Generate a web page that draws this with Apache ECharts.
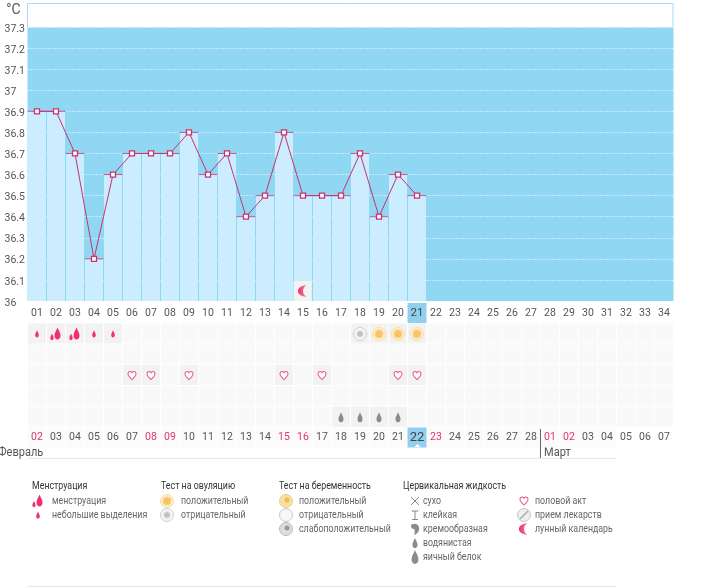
<!DOCTYPE html>
<html>
<head>
    <title>График температуры</title>
    <meta http-equiv="content-type" content="text/html; charset=utf-8">
    <script src="https://cdn.jsdelivr.net/npm/echarts@6/dist/echarts.min.js"></script>
    <style type="text/css">
        html, body { margin:0; padding:0; background:#fff; }
        #main { width:711px; height:587px; }
    </style>
</head>
<body>
    <div id="main"></div>
    <script type="text/javascript">
        var cycleDays = ['01','02','03','04','05','06','07','08','09','10','11','12','13','14','15','16','17','18','19','20','21','22','23','24','25','26','27','28','29','30','31','32','33','34'];
        var calendarDays = ['02','03','04','05','06','07','08','09','10','11','12','13','14','15','16','17','18','19','20','21','22','23','24','25','26','27','28','01','02','03','04','05','06','07'];
        var weekendCols = [0,6,7,13,14,21,27,28];
        var temperature = [36.9,36.9,36.7,36.2,36.6,36.7,36.7,36.7,36.8,36.6,36.7,36.4,36.5,36.8,36.5,36.5,36.5,36.7,36.4,36.6,36.5];
        var todayCol = 20;
        var todayDateCol = 20;
        // [column, row, icon]
        var events = [
            [0,0,'spot'],[1,0,'flow'],[2,0,'flow'],[3,0,'spot'],[4,0,'spot'],
            [17,0,'ovuNeg'],[18,0,'ovuPos'],[19,0,'ovuPos'],[20,0,'ovuPos'],
            [5,2,'heart'],[6,2,'heart'],[8,2,'heart'],[13,2,'heart'],[15,2,'heart'],[19,2,'heart'],[20,2,'heart'],
            [16,4,'water'],[17,4,'water'],[18,4,'water'],[19,4,'water']
        ];
        var moonDays = [[14,36]];
        var rowCount = 5;

        var PINK = '#f0316b';
        var DROP = 'M0,-6C1,-3 3,-1 3,2C3,4.5 1.5,6 0,6C-1.5,6 -3,4.5 -3,2C-3,-1 -1,-3 0,-6Z';
        var HEART = 'M0,5C-2,3 -5,0.5 -5,-2C-5,-4 -3.5,-5 -2.3,-5C-1.2,-5 -0.4,-4.3 0,-3.5C0.4,-4.3 1.2,-5 2.3,-5C3.5,-5 5,-4 5,-2C5,0.5 2,3 0,5Z';
        var MOON = 'M5,-8C-2,-8 -7,-4.5 -7,0C-7,4.5 -2,8 5,8C2,6 0,3 0,0C0,-3 2,-6 5,-8Z';
        var MOON_FILL = {type:'linear', x:0, y:0, x2:1, y2:0, colorStops:[{offset:0, color:'#ee2f6c'}, {offset:0.6, color:'#f2618f'}, {offset:1, color:'#f9b7cc'}]};

        function circle(cx, cy, r, fill, stroke, w) {
            return {type:'circle', shape:{cx:cx, cy:cy, r:r}, style:{fill:fill, stroke:stroke || null, lineWidth:w || 1}};
        }
        function path(d, cx, cy, s, fill, stroke, w) {
            return {type:'path', x:cx, y:cy, scaleX:s, scaleY:s, shape:{pathData:d},
                style:{fill:fill, stroke:stroke || null, lineWidth:w || 1}};
        }
        function line(x1, y1, x2, y2, color, w) {
            return {type:'line', shape:{x1:x1, y1:y1, x2:x2, y2:y2}, style:{stroke:color, lineWidth:w || 1}};
        }
        // icon parts around a centre
        function iconParts(name, x, y) {
            switch (name) {
                case 'spot': return [path(DROP, x, y, 0.6, PINK)];
                case 'flow': return [path(DROP, x+1.5, y-0.5, 1, PINK), path(DROP, x-4, y+3, 0.55, PINK)];
                case 'heart': return [path(HEART, x, y, 0.8, '#fff', '#ef5d8c', 1.3)];
                case 'water': return [path(DROP, x, y, 0.85, '#8b8b8b')];
                case 'egg': return [path(DROP, x, y, 1.15, '#8b8b8b')];
                case 'ovuPos': return [circle(x, y, 6.5, '#fdeec8', '#f9dfa6', 1), circle(x, y, 4, '#f9c469', '#fad388', 1)];
                case 'ovuNeg': return [circle(x, y, 6.5, '#f6f6f6', '#cfcfcf', 1), circle(x, y, 3.2, '#c0c0c0', '#e0e0e0', 1)];
                case 'pregPos': return [circle(x, y, 6.5, '#fbdf9d', '#e8cf9a', 1), circle(x+1, y-1, 2.5, '#f5b74f')];
                case 'pregNeg': return [circle(x, y, 6.5, '#f7f7f7', '#c9c9c9', 1)];
                case 'pregWeak': return [circle(x, y, 6.5, '#ddd', '#bbb', 1), circle(x+1, y-1, 2.5, '#999')];
                case 'dry': return [line(x-4, y-4, x+4, y+4, '#888'), line(x+4, y-4, x-4, y+4, '#888')];
                case 'sticky': return [line(x-3.5, y-4, x+3.5, y-4, '#888'), line(x, y-4, x, y+4, '#888'), line(x-3, y+4.5, x+3, y+4.5, '#888')];
                case 'creamy': return [path('M-4,-3C-4,-6 3,-6 4,-2C5,2 2,5 -1,6C0,3 0,1 -1,0C-3,0 -4,-1 -4,-3Z', x, y, 1, '#8b8b8b')];
                case 'pill': return [circle(x, y, 6.5, '#eee', '#c9c9c9', 1), line(x-4, y+4, x+4, y-4, '#aaa', 1.5)];
                case 'moon': return [path(MOON, x, y, 0.72, MOON_FILL)];
            }
            return [];
        }

        var legendHeads = [
            {x:32, text:'Менструация'}, {x:161, text:'Тест на овуляцию'},
            {x:279, text:'Тест на беременность'}, {x:403, text:'Цервикальная жидкость'}
        ];
        var legendItems = [
            {ix:38, tx:52, row:0, icon:'flow', text:'менструация'},
            {ix:38, tx:52, row:1, icon:'spot', text:'небольшие выделения'},
            {ix:167, tx:181, row:0, icon:'ovuPos', text:'положительный'},
            {ix:167, tx:181, row:1, icon:'ovuNeg', text:'отрицательный'},
            {ix:286, tx:299, row:0, icon:'pregPos', text:'положительный'},
            {ix:286, tx:299, row:1, icon:'pregNeg', text:'отрицательный'},
            {ix:286, tx:299, row:2, icon:'pregWeak', text:'слабоположительный'},
            {ix:415, tx:423, row:0, icon:'dry', text:'сухо'},
            {ix:415, tx:423, row:1, icon:'sticky', text:'клейкая'},
            {ix:415, tx:423, row:2, icon:'creamy', text:'кремообразная'},
            {ix:415, tx:423, row:3, icon:'water', text:'водянистая'},
            {ix:415, tx:423, row:4, icon:'egg', text:'яичный белок'},
            {ix:524, tx:535, row:0, icon:'heart', text:'половой акт'},
            {ix:524, tx:535, row:1, icon:'pill', text:'прием лекарств'},
            {ix:524, tx:535, row:2, icon:'moon', text:'лунный календарь'}
        ];
        var FONT = 'Roboto, sans-serif';
        var TEXT_SQUEEZE = 0.84;

        var graphics = [
            // top white part of the plot frame
            {type:'rect', shape:{x:27.5, y:3.5, width:645.5, height:24}, style:{fill:'#fff', stroke:'#a6dcf3'}},
            line(540.5, 429, 540.5, 458, '#666'),
            line(27, 458.5, 617, 458.5, '#e8e8e8'),
            line(27, 586.5, 617, 586.5, '#e8e8e8'),
            {type:'polygon', z:10, shape:{points:[[414.5,447],[417.5,444],[420.5,447]]}, style:{fill:'#fff'}},
            {type:'text', x:-2, y:447, scaleX:0.92, style:{text:'Февраль', font:'12px '+FONT, fill:'#555'}},
            {type:'text', x:544, y:447, scaleX:0.92, style:{text:'Март', font:'12px '+FONT, fill:'#555'}}
        ];
        legendHeads.forEach(function (h) {
            graphics.push({type:'text', x:h.x, y:481, scaleX:TEXT_SQUEEZE, style:{text:h.text, font:'10.5px '+FONT, fill:'#333'}});
        });

        var chart = echarts.init(document.getElementById('main'));
        var rowNames = [];
        for (var r = 0; r < rowCount + 1; r++) rowNames.push(r);

        var option = {
            animation:false,
            backgroundColor:'#fff',
            textStyle:{fontFamily:FONT},
            graphic:graphics,
            grid:[
                {left:27.5, width:646, top:27, height:274, show:true, backgroundColor:'#90d7f4', borderWidth:0},
                {left:27.5, width:646, top:323.5, height:125}
            ],
            xAxis:[
                {type:'category', gridIndex:0, data:cycleDays, axisTick:{show:false}, axisLine:{show:false},
                 axisLabel:{interval:0, margin:2, color:'#555', fontSize:10.5, formatter:function (v, i) {
                     return i === todayCol ? '{today|'+v+'}' : '{day|'+v+'}';
                 }, rich:{
                     day:{width:19, height:20, lineHeight:20, align:'center', color:'#555', fontSize:10.5},
                     today:{width:19, height:20, lineHeight:20, align:'center', color:'#444', fontSize:11.5, backgroundColor:'#90d0ee'}
                 }}},
                {type:'category', gridIndex:1, data:calendarDays, position:'bottom', z:5, axisTick:{show:false}, axisLine:{show:false},
                 axisLabel:{interval:0, inside:true, margin:1, formatter:function (v, i) {
                     if (i === todayDateCol) return '{today|'+v+'}';
                     return weekendCols.indexOf(i) >= 0 ? '{off|'+v+'}' : '{day|'+v+'}';
                 }, rich:{
                     day:{width:19, height:20, lineHeight:20, align:'center', color:'#555', fontSize:10.5},
                     off:{width:19, height:20, lineHeight:20, align:'center', color:'#e0336f', fontSize:10.5},
                     today:{width:19, height:20, lineHeight:20, align:'center', color:'#444', fontSize:13, backgroundColor:'#90d0ee'}
                 }}}
            ],
            yAxis:[
                {type:'value', gridIndex:0, min:36, max:37.3, interval:0.1, name:'°C', nameGap:10,
                 nameTextStyle:{color:'#555', fontSize:14, align:'right', padding:[0,7,0,0]},
                 axisTick:{show:false}, axisLine:{show:false},
                 splitLine:{show:true, lineStyle:{color:'#fff', type:[1,2], width:1}},
                 axisLabel:{align:'left', margin:23, formatter:'{v|{value}}',
                     rich:{v:{color:'#555', fontSize:10.5, padding:[4,0,0,0]}}}},
                {type:'category', gridIndex:1, inverse:true, data:rowNames, show:false}
            ],
            series:[
                {type:'bar', xAxisIndex:0, yAxisIndex:0, data:temperature, barWidth:18, z:2,
                 itemStyle:{color:'#ccedff'}},
                {type:'custom', xAxisIndex:0, yAxisIndex:0, data:moonDays, z:3, clip:false,
                 renderItem:function (params, api) {
                     var p = api.coord([api.value(0), api.value(1)]);
                     var s = api.size([1, 0]);
                     return {type:'group', children:[
                         {type:'rect', shape:{x:p[0]-s[0]/2, y:p[1]-20, width:s[0]-1, height:20}, style:{fill:'#f3f3f4'}}
                     ].concat(iconParts('moon', p[0], p[1]-10))};
                 }},
                {type:'scatter', xAxisIndex:0, yAxisIndex:0, data:temperature, symbol:'rect', symbolSize:[19,1], z:3,
                 itemStyle:{color:'#c9326e'}, silent:true},
                {type:'line', xAxisIndex:0, yAxisIndex:0, data:temperature, z:4, symbol:'rect', symbolSize:5, showAllSymbol:true,
                 lineStyle:{color:'#c9326e', width:1},
                 itemStyle:{color:'#fff', borderColor:'#c9326e', borderWidth:1.3}},
                // empty cells
                {type:'custom', xAxisIndex:1, yAxisIndex:1, z:1, data:(function () {
                     var cells = [];
                     for (var c = 0; c < cycleDays.length; c++) {
                         for (var r = 0; r <= rowCount; r++) {
                             if (r < rowCount || c < 31) cells.push([c, r, r === rowCount ? 1 : 0]);
                         }
                     }
                     return cells;
                 })(),
                 renderItem:function (params, api) {
                     var p = api.coord([api.value(0), api.value(1)]);
                     var s = api.size([1, 1]);
                     return {type:'rect', shape:{x:p[0]-s[0]/2+0.5, y:p[1]-s[1]/2, width:s[0]-1, height:s[1]-1},
                             style:{fill:api.value(2) ? '#fbfbfb' : '#f9f9fa'}};
                 }},
                // cells with an event
                {type:'custom', xAxisIndex:1, yAxisIndex:1, z:2, data:events,
                 encode:{x:0, y:1},
                 renderItem:function (params, api) {
                     var p = api.coord([api.value(0), api.value(1)]);
                     var s = api.size([1, 1]);
                     var name = events[params.dataIndex][2];
                     return {type:'group', children:[
                         {type:'rect', shape:{x:p[0]-s[0]/2+0.5, y:p[1]-s[1]/2, width:s[0]-1, height:s[1]-1}, style:{fill:'#f2f2f3'}}
                     ].concat(iconParts(name, p[0], p[1]))};
                 }},
                // legend entries with their icons
                {type:'custom', coordinateSystem:'none', silent:true, z:5, data:legendItems.map(function (it, i) { return [i]; }),
                 renderItem:function (params) {
                     var it = legendItems[params.dataIndex];
                     var y = 501 + it.row * 14;
                     return {type:'group', children:iconParts(it.icon, it.ix, y).concat([
                         {type:'text', x:it.tx, y:y, scaleX:TEXT_SQUEEZE, style:{text:it.text, font:'10.5px '+FONT, fill:'#666', verticalAlign:'middle'}}
                     ])};
                 }}
            ]
        };
        chart.setOption(option);
    </script>
</body>
</html>
